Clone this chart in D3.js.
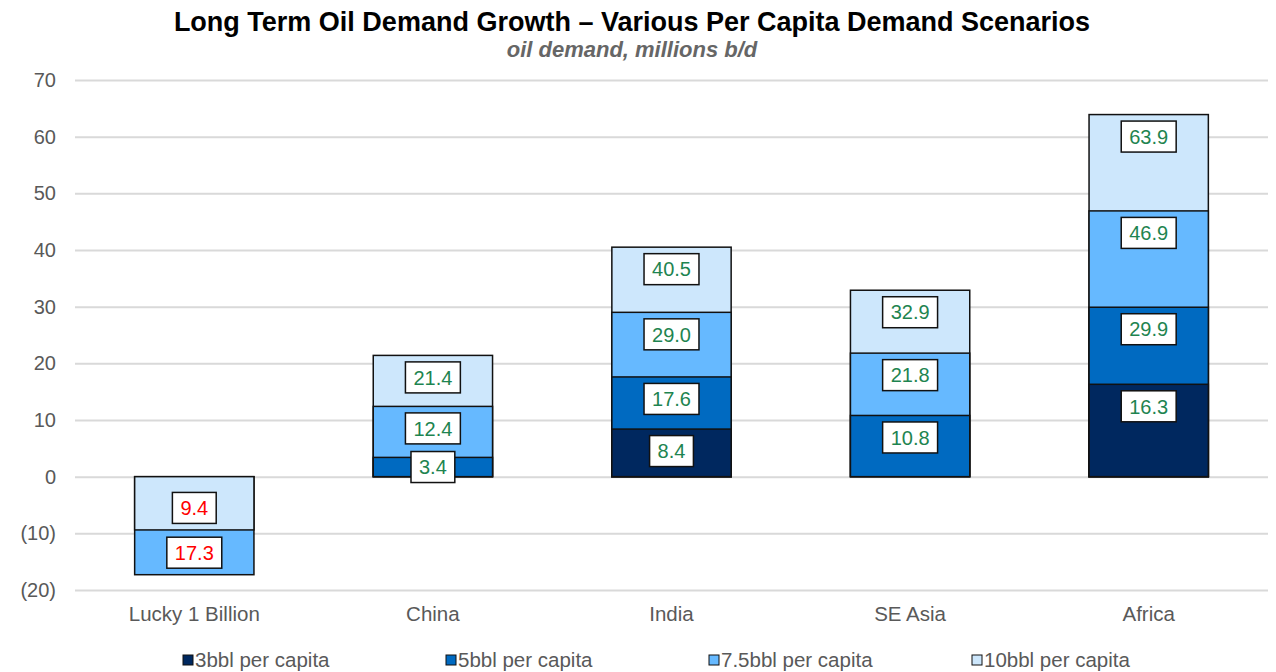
<!DOCTYPE html>
<html>
<head>
<meta charset="utf-8">
<script src="https://cdn.jsdelivr.net/npm/d3@7"></script>
<style>
  body { margin: 0; background: #fff; }
  svg text { font-family: Arial, "Liberation Sans", sans-serif; }
</style>
</head>
<body>
<svg id="chart" width="1276" height="672"></svg>
<script>
const categories = ["Lucky 1 Billion", "China", "India", "SE Asia", "Africa"];
const seriesNames = ["3bbl per capita", "5bbl per capita", "7.5bbl per capita", "10bbl per capita"];
const seriesColors = ["#00285f", "#006ac1", "#66b9ff", "#cde7fc"];
const bbl3 = [null, null, 8.4, null, 16.3];
const bbl5 = [null, 3.4, 17.6, 10.8, 29.9];
const bbl75 = [-17.3, 12.4, 29.0, 21.8, 46.9];
const bbl10 = [-9.4, 21.4, 40.5, 32.9, 63.9];
const yTicks = [-20, -10, 0, 10, 20, 30, 40, 50, 60, 70];

const series = [bbl3, bbl5, bbl75, bbl10];

const svg = d3.select("#chart");
const plotLeft = 75, plotRight = 1268, plotTop = 80, plotBottom = 590;

const x = d3.scaleBand().domain(categories).range([plotLeft, plotRight]).paddingInner(0.5).paddingOuter(0.25);
const y = d3.scaleLinear().domain([-20, 70]).range([plotBottom, plotTop]);

// title
svg.append("text").attr("x", 632).attr("y", 31).attr("text-anchor", "middle")
  .attr("font-size", 27).attr("font-weight", "bold").attr("fill", "#000")
  .text("Long Term Oil Demand Growth \u2013 Various Per Capita Demand Scenarios");
svg.append("text").attr("x", 632).attr("y", 57).attr("text-anchor", "middle")
  .attr("font-size", 22).attr("font-weight", "bold").attr("font-style", "italic").attr("fill", "#666")
  .text("oil demand, millions b/d");

// gridlines + tick labels
const fmt = v => v < 0 ? "(" + Math.abs(v) + ")" : String(v);
const yAxis = svg.append("g").attr("transform", `translate(${plotLeft},0)`)
  .call(d3.axisLeft(y).tickValues(yTicks).tickSize(-(plotRight - plotLeft)).tickFormat(fmt));
yAxis.select(".domain").remove();
yAxis.selectAll(".tick line").attr("stroke", "#d9d9d9").attr("stroke-width", 2);
yAxis.selectAll(".tick text").attr("x", -19).attr("font-size", 20).attr("fill", "#595959")
  .attr("font-family", "Arial, 'Liberation Sans', sans-serif");

// category labels
svg.append("g").selectAll("text").data(categories).join("text")
  .attr("x", d => x(d) + x.bandwidth() / 2).attr("y", 621)
  .attr("text-anchor", "middle").attr("font-size", 20.5).attr("fill", "#595959")
  .text(d => d);

// overlapping bars: per category, biggest first so smaller ones sit on top
const marks = [];
categories.forEach((c, ci) => {
  const items = series.map((s, si) => ({ c, si, v: s[ci] })).filter(d => d.v !== null);
  items.sort((a, b) => Math.abs(b.v) - Math.abs(a.v));
  items.forEach(d => marks.push(d));
});

svg.append("g").selectAll("rect").data(marks).join("rect")
  .attr("x", d => x(d.c))
  .attr("width", x.bandwidth())
  .attr("y", d => Math.min(y(0), y(d.v)))
  .attr("height", d => Math.abs(y(d.v) - y(0)))
  .attr("fill", d => seriesColors[d.si])
  .attr("stroke", "#111").attr("stroke-width", 1.5);

// labels (inside end, centred if the bar is short)
const labels = svg.append("g").selectAll("g").data(marks).join("g")
  .attr("transform", d => {
    const h = Math.abs(y(d.v) - y(0));
    let cy;
    if (h < 44) cy = (y(d.v) + y(0)) / 2;
    else cy = d.v >= 0 ? y(d.v) + 22 : y(d.v) - 22;
    return `translate(${x(d.c) + x.bandwidth() / 2},${cy})`;
  });
labels.append("text")
  .attr("text-anchor", "middle").attr("dy", "0.36em").attr("font-size", 20)
  .attr("fill", d => d.v < 0 ? "#ff0000" : "#1e8450")
  .text(d => Math.abs(d.v).toFixed(1));
labels.each(function() {
  const g = d3.select(this);
  const bb = g.select("text").node().getBBox();
  g.insert("rect", "text")
    .attr("x", -bb.width / 2 - 8).attr("y", -15.5)
    .attr("width", bb.width + 16).attr("height", 31)
    .attr("fill", "#fff").attr("stroke", "#111").attr("stroke-width", 1.5);
});

// legend
const legend = svg.append("g").selectAll("g").data(seriesNames).join("g")
  .attr("transform", (d, i) => `translate(${183 + i * 263},660)`);
legend.append("rect").attr("x", 0).attr("y", -5).attr("width", 10).attr("height", 10)
  .attr("fill", (d, i) => seriesColors[i]).attr("stroke", "#111").attr("stroke-width", 1);
legend.append("text").attr("x", 12).attr("dy", "0.36em").attr("font-size", 20.5).attr("fill", "#595959")
  .text(d => d);
</script>
</body>
</html>
